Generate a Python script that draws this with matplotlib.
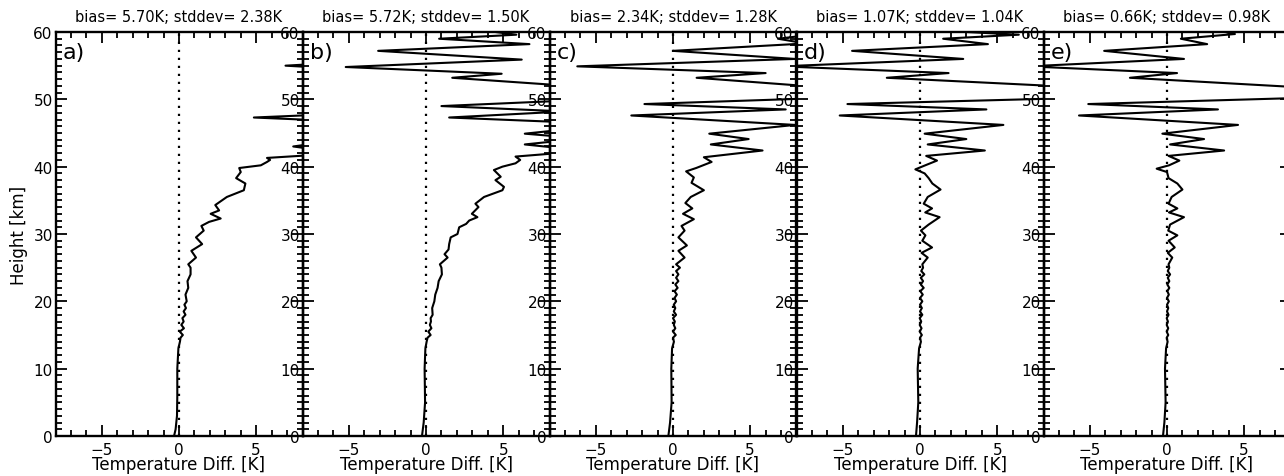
import matplotlib
matplotlib.use("Agg")
import matplotlib.pyplot as plt
from matplotlib.ticker import MultipleLocator

plt.rcParams['font.family'] = ['DejaVu Sans']

panel_letters = ["a)", "b)", "c)", "d)", "e)"]
bias = [5.70, 5.72, 2.34, 1.07, 0.66]
stddev = [2.38, 1.50, 1.28, 1.04, 0.98]

h_a = [0, 1, 3, 6, 10, 13, 14, 14.6, 15, 15.5, 16, 16.5, 17, 17.5, 18, 18.5, 19, 19.5, 20, 21, 22, 23, 24, 25,
       25.5, 26.5, 27.5, 28.5, 29.5, 30.5, 31.2, 31.8, 32.3, 33, 33.5, 34.3, 35.5, 36.5, 37.5, 38.3, 39.2, 39.8,
       40.2, 40.7, 41, 41.3, 41.7, 42.5, 43.0, 43.5, 46.8, 47.3, 47.8, 54.6, 55.0, 55.4, 60]
t_a = [-0.32, -0.22, -0.13, -0.11, -0.11, -0.04, 0.06, 0.1, 0.25, 0.05, 0.32, 0.15, 0.3, 0.22, 0.42, 0.3, 0.45, 0.35,
       0.5, 0.42, 0.6, 0.55, 0.75, 0.75, 0.6, 1.1, 0.8, 1.5, 1.1, 1.6, 1.45, 1.95, 2.7, 2.05, 2.6, 2.35, 3.1, 4.2, 4.3,
       3.7, 4.0, 3.9, 5.3, 5.7, 5.9, 5.7, 8.5, 9.0, 7.4, 9.0, 10.0, 4.85, 10.0, 10.0, 6.9, 10.0, 10.0]

h_b = [0, 2, 5, 10, 13, 14, 14.6, 15, 15.5, 16, 16.5, 17, 17.5, 18, 19, 20, 21, 22, 23, 24, 25, 25.5, 26.5, 27,
       27.7, 28.5, 29.5, 30, 31, 31.5, 32, 32.5, 33, 34, 34.5, 35.5, 36.5, 37, 38, 38.5, 39.5, 40, 40.5, 41, 41.5,
       42.0, 42.8, 43.3, 43.8, 44.5, 44.9, 45.4, 46.6, 47.3, 48.2, 49.0, 49.8, 51.0, 52.2, 53.2, 53.8, 54.8, 55.9,
       57.2, 58.2, 59.0, 59.6, 60]
t_b = [-0.26, -0.15, -0.06, -0.09, -0.04, 0.04, 0.1, 0.3, 0.15, 0.35, 0.25, 0.32, 0.3, 0.43, 0.4, 0.54, 0.6, 0.75,
       0.82, 1.03, 1.0, 0.9, 1.4, 1.2, 1.46, 1.5, 1.6, 2.04, 2.15, 2.6, 2.8, 3.33, 2.97, 3.4, 3.2, 3.76, 4.95, 5.05,
       4.5, 4.84, 4.4, 4.95, 5.8, 6.1, 5.8, 8.5, 8.5, 6.4, 8.5, 8.5, 6.4, 8.5, 9.0, 1.5, 9.0, 1.0, 9.0, 10.0, 8.0,
       1.7, 4.9, -5.2, 6.2, -3.1, 6.7, 0.85, 5.85, 4.5]

h_c = [0, 2, 5, 10, 13, 14, 14.6, 15, 15.5, 16, 16.5, 17, 17.5, 18, 18.5, 19, 19.5, 20, 20.5, 21, 21.5, 22, 22.5,
       23, 23.5, 24, 24.5, 25, 25.5, 26.5, 27.5, 28.3, 29.5, 30.5, 31.2, 32.2, 33, 33.8, 34.6, 35.5, 36.5, 37.6,
       38.4, 39.3, 39.8, 40.7, 41.4, 42.4, 43.3, 44.1, 44.9, 46.2, 47.6, 48.5, 49.3, 50.1, 51.0, 52.0, 53.2, 53.9,
       54.9, 56.0, 57.2, 58.3, 59.0, 59.6, 60]
t_c = [-0.3, -0.19, -0.09, -0.11, -0.06, 0.06, 0.0, 0.18, 0.0, 0.15, 0.05, 0.12, 0.0, 0.2, 0.05, 0.15, 0.05, 0.2,
       0.1, 0.25, 0.1, 0.3, 0.15, 0.35, 0.2, 0.35, 0.2, 0.45, 0.2, 0.75, 0.35, 0.9, 0.35, 0.75, 0.55, 1.35, 0.65,
       1.25, 0.8, 1.15, 2.0, 1.2, 1.35, 0.85, 1.5, 2.5, 2.0, 5.8, 2.45, 4.9, 2.35, 7.9, -2.7, 7.3, -1.85, 8.5, 10.0,
       8.5, 1.53, 6.0, -6.2, 7.9, 0.0, 8.6, 6.8, 9.0, 9.0]

h_d = [0, 2, 5, 10, 13, 14, 14.6, 15, 15.5, 16, 16.5, 17, 17.5, 18, 18.5, 19, 19.5, 20, 20.5, 21, 21.5, 22, 22.5,
       23, 23.5, 24, 24.5, 25, 25.5, 26.5, 27.2, 28, 29, 29.8, 30.5, 31.4, 32.5, 33.2, 33.8, 34.5, 35.5, 36.6,
       37.5, 38.3, 39.0, 39.6, 40.2, 40.9, 41.6, 42.4, 43.3, 44.1, 44.9, 46.2, 47.6, 48.5, 49.3, 50.1, 51.0, 52.0,
       53.2, 53.9, 54.9, 56.0, 57.2, 58.2, 59.0, 59.6, 60]
t_d = [-0.26, -0.19, -0.11, -0.15, -0.06, 0.06, 0.0, 0.12, -0.02, 0.1, -0.02, 0.08, -0.02, 0.15, 0.0, 0.12, 0.0,
       0.15, 0.0, 0.18, 0.02, 0.24, 0.05, 0.2, 0.05, 0.28, 0.08, 0.2, 0.15, 0.5, 0.1, 0.78, 0.15, 0.35, 0.06, 0.56,
       1.27, 0.34, 0.78, 0.24, 0.5, 1.33, 0.8, 0.56, 0.3, -0.3, 0.34, 1.1, 0.4, 4.2, 0.5, 3.0, 0.3, 5.4, -5.2, 4.3,
       -4.7, 8.5, 10.0, 8.5, -2.15, 1.85, -9.0, 2.8, -4.4, 4.4, 1.5, 6.4, 3.0]

h_e = [0, 2, 5, 10, 13, 14, 14.6, 15, 15.5, 16, 16.5, 17, 17.5, 18, 18.5, 19, 19.5, 20, 20.5, 21, 21.5, 22, 22.5,
       23, 23.5, 24, 24.5, 25, 25.5, 26.5, 27.2, 28, 29, 29.8, 30.5, 31.4, 32.5, 33.2, 33.8, 34.5, 35.5, 36.6,
       37.5, 38.3, 39.2, 39.7, 40.2, 40.9, 41.6, 42.4, 43.3, 44.1, 44.9, 46.2, 47.6, 48.5, 49.3, 50.2, 51.0, 51.8,
       53.2, 53.9, 54.9, 56.0, 57.2, 58.2, 59.0, 59.7, 60]
t_e = [-0.26, -0.17, -0.09, -0.13, -0.06, 0.04, -0.02, 0.08, -0.02, 0.08, -0.02, 0.06, -0.02, 0.1, 0.0, 0.08, 0.0,
       0.12, 0.0, 0.12, 0.02, 0.15, 0.02, 0.15, 0.05, 0.2, 0.05, 0.15, 0.1, 0.34, 0.05, 0.5, 0.1, 0.67, 0.08, 0.2,
       1.1, 0.13, 0.67, 0.1, 0.3, 1.0, 0.67, 0.1, 0.0, -0.67, 0.13, 0.8, 0.1, 3.7, 0.2, 2.4, -0.3, 4.6, -5.7, 3.3,
       -5.1, 8.5, 10.0, 8.5, -2.4, 0.65, -9.0, 1.1, -4.07, 2.6, 0.9, 4.4, 3.8]

heights = [h_a, h_b, h_c, h_d, h_e]
temps = [t_a, t_b, t_c, t_d, t_e]

W, H = 1284, 477
fig = plt.figure(figsize=(W / 100, H / 100), dpi=100)

lefts_px = [55.5, 302.5, 549.5, 796.5, 1043.5]
width_px = 247.0
top_px, bottom_px = 33.0, 437.0

for i in range(5):
    ax = fig.add_axes([lefts_px[i] / W, 1 - bottom_px / H, width_px / W, (bottom_px - top_px) / H])
    ax.set_facecolor('none')
    ax.plot(temps[i], heights[i], color='black', lw=1.5, solid_joinstyle='round')
    ax.axvline(0, color='black', lw=1.6, ls=(0, (1, 2.6)))
    ax.set_xlim(-8, 8)
    ax.set_ylim(0, 60)
    ax.xaxis.set_major_locator(MultipleLocator(5))
    ax.xaxis.set_minor_locator(MultipleLocator(1))
    ax.yaxis.set_major_locator(MultipleLocator(10))
    ax.yaxis.set_minor_locator(MultipleLocator(1))
    ax.tick_params(which='both', direction='in', top=True, right=True, width=1.3, labelsize=11)
    ax.tick_params(which='major', length=8, pad=4)
    ax.tick_params(which='minor', length=4)
    ax.tick_params(axis='y', pad=2)
    for s in ax.spines.values():
        s.set_linewidth(1.7)
    ax.set_xticklabels([f"{v:g}".replace('-', '\u2212') for v in ax.get_xticks()])
    ax.set_xlabel("Temperature Diff. [K]", fontsize=12, labelpad=-1)
    ax.set_title(f"bias= {bias[i]:.2f}K; stddev= {stddev[i]:.2f}K", fontsize=10.5, pad=8)
    ax.text(0.03, 0.975, panel_letters[i], transform=ax.transAxes, fontsize=16, va='top', ha='left')
    if i == 0:
        ax.set_ylabel("Height [km]", fontsize=12, labelpad=4)

fig.savefig("out.png", dpi=100)
